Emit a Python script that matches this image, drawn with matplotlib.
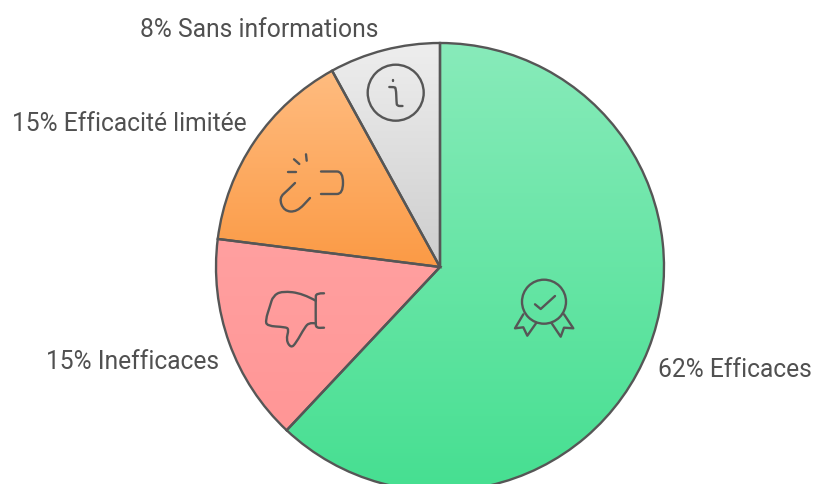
''' pie chart of effectiveness shares, with a gradient and an icon on each slice '''
import numpy as np
import matplotlib
matplotlib.use('Agg')
import matplotlib.pyplot as plt
from matplotlib.colors import LinearSegmentedColormap
from matplotlib.patches import Circle, PathPatch
from matplotlib.path import Path

labels = ['Efficaces', 'Inefficaces', 'Efficacité limitée', 'Sans informations']
values = [62, 15, 15, 8]

W, H = 813, 484
INK = '#565656'
LW = 1.7
gradients = [('#88EBBA', '#46DF91'), ('#FFA0A0', '#FF9696'),
             ('#FFBC80', '#FB9A45'), ('#EEEEEE', '#CDCDCD')]
label_pos = [(658, 370), (46, 362), (12, 124), (140, 30)]


def py(y):
    ''' picture y (from the top) to axes y '''
    return H - y


def stroke(ax, points, smooth=False):
    ''' draw an icon line through picture coordinates '''
    pts = [(x, py(y)) for x, y in points]
    if smooth:
        # quadratic segments through the midpoints
        verts, codes = [pts[0]], [Path.MOVETO]
        for a, b in zip(pts[1:-1], pts[2:]):
            verts += [a, ((a[0] + b[0]) / 2, (a[1] + b[1]) / 2)]
            codes += [Path.CURVE3, Path.CURVE3]
        verts += [pts[-1]]
        codes += [Path.LINETO]
    else:
        verts, codes = pts, [Path.MOVETO] + [Path.LINETO] * (len(pts) - 1)
    ax.add_patch(PathPatch(Path(verts, codes), fill=False, ec=INK, lw=LW,
                           capstyle='round', joinstyle='round', zorder=5))


def ring(ax, x, y, r):
    ax.add_patch(Circle((x, py(y)), r, fill=False, ec=INK, lw=LW, zorder=5))


fig = plt.figure(figsize=(W / 100, H / 100), dpi=100)
ax = fig.add_axes([0, 0, 1, 1])

wedges, _ = ax.pie(values, center=(440, py(267)), radius=224, startangle=90,
                   counterclock=False,
                   wedgeprops={'edgecolor': INK, 'linewidth': LW, 'zorder': 3})

# gradient fill per slice, clipped to the wedge
for wedge, (top, bottom) in zip(wedges, gradients):
    box = wedge.get_path().transformed(wedge.get_patch_transform()).get_extents()
    cmap = LinearSegmentedColormap.from_list('g', [top, bottom])
    img = ax.imshow(np.linspace(0, 1, 256).reshape(-1, 1), cmap=cmap, aspect='auto',
                    extent=(box.x0, box.x1, box.y0, box.y1), zorder=2)
    img.set_clip_path(wedge)
    wedge.set_facecolor('none')

ax.set_xlim(0, W)
ax.set_ylim(0, H)
ax.set_aspect('auto')
ax.axis('off')

# info icon
ring(ax, 395.7, 92.7, 28)
stroke(ax, [(393.3, 80), (393.3, 80.8)])
stroke(ax, [(389.3, 87), (394, 87), (396, 88), (396.5, 102), (397, 106), (402.5, 106)], smooth=True)

# broken link icon
stroke(ax, [(321, 171.5), (331, 171.5), (343, 171.5), (343, 194), (331, 194), (321, 194)], smooth=True)
stroke(ax, [(295, 183), (288, 190), (279, 198), (284, 211), (297, 212), (310, 198)], smooth=True)
stroke(ax, [(306, 154.3), (306.7, 160.7)])
stroke(ax, [(294, 159.3), (299.3, 164)])
stroke(ax, [(288.3, 171.7), (296, 171.7)])

# thumb down icon
stroke(ax, [(324, 293.3), (316, 293), (315.7, 299), (315.7, 322), (316, 328), (324, 327.7)], smooth=True)
stroke(ax, [(315.7, 300.7), (303, 293.5), (282, 291), (273, 296), (270, 306), (265.5, 320),
            (267, 326), (285, 327), (289, 329), (286, 340), (291, 348), (296, 343),
            (305, 327), (309, 323), (315.7, 323.3)], smooth=True)

# award icon
ring(ax, 544, 301.7, 22)
stroke(ax, [(535, 304.3), (540.7, 309), (555, 296)])
stroke(ax, [(523.3, 314.3), (515, 328.3), (523.3, 327.3), (527.3, 335.7), (536, 323.3)])
stroke(ax, [(551.7, 323.3), (560.7, 336.7), (564, 327.7), (573.3, 328.3), (564, 314.3)])

for label, value, (x, y) in zip(labels, values, label_pos):
    ax.text(x, py(y), f'{value}% {label}', family='Roboto', fontsize=17.7,
            color='#505050', ha='left', va='center')

fig.savefig('out.png', dpi=100)
